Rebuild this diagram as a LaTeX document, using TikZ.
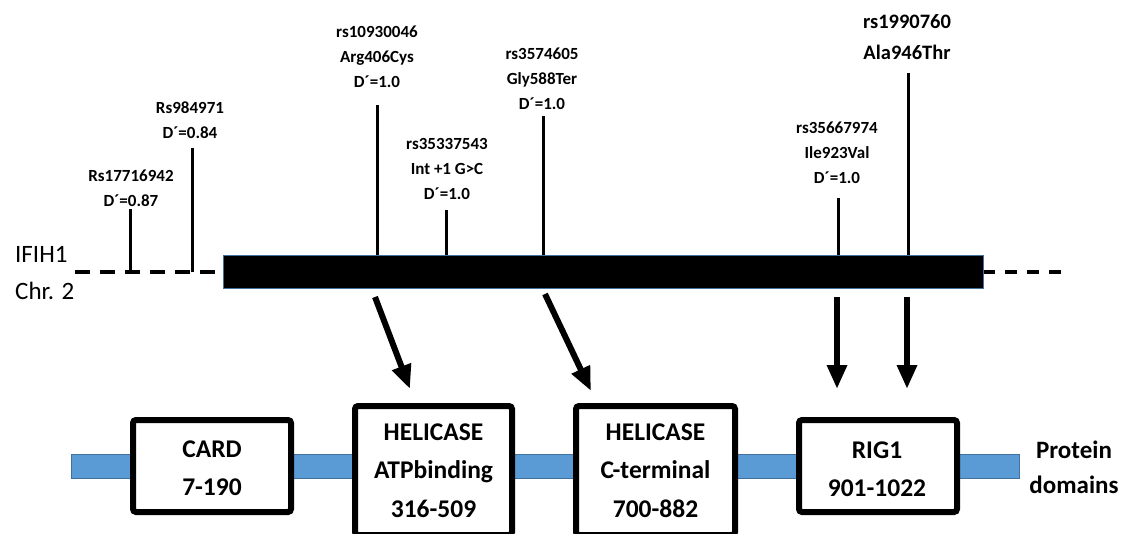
\documentclass[tikz,border=0pt]{standalone}
\usepackage{fontspec}
\setmainfont{Carlito}
\usetikzlibrary{arrows.meta}
\definecolor{protblue}{HTML}{5B9BD5}
\definecolor{edgeblue}{HTML}{41719C}
\newcommand{\mlines}[1]{\begin{tabular}[t]{@{}c@{}}#1\end{tabular}}
\newcommand{\Dp}{D\char"00B4}
\begin{document}
\begin{tikzpicture}[x=1pt,y=-1pt,
  snptext/.style={anchor=base, inner sep=0pt, font=\fontsize{17}{25}\selectfont\bfseries},
  bigsnptext/.style={anchor=base, inner sep=0pt, font=\fontsize{20.5}{31}\selectfont\bfseries},
  snpline/.style={line width=3pt},
  domainbox/.style={draw=black, fill=white, line width=6pt, rounded corners=3pt, inner sep=0pt},
  boxtext/.style={anchor=base, inner sep=0pt, font=\fontsize{25.5}{38.5}\selectfont\bfseries},
  sidetext/.style={anchor=base west, inner sep=0pt, font=\fontsize{25}{37}\selectfont},
  protlabel/.style={anchor=base, inner sep=0pt, font=\fontsize{25}{35}\selectfont\bfseries},
  bigarrow/.style={line width=6pt, -{Triangle[width=19pt,length=24pt]}},
  dashleft/.style={line width=4pt, dash pattern=on 15pt off 10pt},
  dashright/.style={line width=4pt, dash pattern=on 12pt off 10pt}
]
\useasboundingbox (0,0) rectangle (1126,533);
\clip (0,0) rectangle (1126,533);

% chromosome line
\coordinate (dl1) at (75,272);
\coordinate (dl2) at (223,272);
\coordinate (dr1) at (983,272);
\coordinate (dr2) at (1064,272);
\draw[dashleft] (dl1) -- (dl2);
\draw[dashright] (dr1) -- (dr2);
\node[draw=edgeblue, fill=black, line width=1pt, minimum width=760pt, minimum height=33pt, inner sep=0pt] (gene) at (603,271.5) {};

% side labels
\node[sidetext] (ifih) at (15,262) {IFIH1};
\node[sidetext] (chr) at (15,299) {Chr. 2};

% SNPs
\node[snptext] (t1) at (131,181) {\mlines{Rs17716942\\\Dp=0.87}};
\coordinate (s1a) at (130,209); \coordinate (s1b) at (130,272);
\draw[snpline] (s1a) -- (s1b);

\node[snptext] (t2) at (190,113) {\mlines{Rs984971\\\Dp=0.84}};
\coordinate (s2a) at (192,148); \coordinate (s2b) at (192,272);
\draw[snpline] (s2a) -- (s2b);

\node[snptext] (t3) at (377,37) {\mlines{rs10930046\\Arg406Cys\\\Dp=1.0}};
\coordinate (s3a) at (377.5,105); \coordinate (s3b) at (377.5,255);
\draw[snpline] (s3a) -- (s3b);

\node[snptext] (t4) at (447,149) {\mlines{rs35337543\\Int +1 G>C\\\Dp=1.0}};
\coordinate (s4a) at (446,210); \coordinate (s4b) at (446,255);
\draw[snpline] (s4a) -- (s4b);

\node[snptext] (t5) at (542,59) {\mlines{rs3574605\\Gly588Ter\\\Dp=1.0}};
\coordinate (s5a) at (543,116); \coordinate (s5b) at (543,255);
\draw[snpline] (s5a) -- (s5b);

\node[snptext] (t6) at (837,133) {\mlines{rs35667974\\Ile923Val\\\Dp=1.0}};
\coordinate (s6a) at (838,198); \coordinate (s6b) at (838,255);
\draw[snpline] (s6a) -- (s6b);

\node[bigsnptext] (t7) at (907,28) {\mlines{rs1990760\\Ala946Thr}};
\coordinate (s7a) at (908,73); \coordinate (s7b) at (908,255);
\draw[snpline] (s7a) -- (s7b);

% arrows
\coordinate (a1s) at (375,297); \coordinate (a1e) at (410,389);
\coordinate (a2s) at (545,294); \coordinate (a2e) at (591,391);
\coordinate (a3s) at (837,297); \coordinate (a3e) at (837,389);
\coordinate (a4s) at (907,297); \coordinate (a4e) at (907,389);
\draw[bigarrow] (a1s) -- (a1e);
\draw[bigarrow] (a2s) -- (a2e);
\draw[bigarrow] (a3s) -- (a3e);
\draw[bigarrow] (a4s) -- (a4e);

% protein bar
\node[draw=edgeblue, fill=protblue, line width=0.8pt, minimum width=948pt, minimum height=23.5pt, inner sep=0pt] (prot) at (545,466.3) {};

% domain boxes
\node[domainbox, minimum width=158pt, minimum height=92pt] (card) at (212,466) {};
\node[domainbox, minimum width=157pt, minimum height=129pt] (hel1) at (433.5,470.5) {};
\node[domainbox, minimum width=159pt, minimum height=129pt] (hel2) at (655.5,470.5) {};
\node[domainbox, minimum width=158pt, minimum height=92pt] (rig) at (878,466) {};

\node[boxtext] (cardt) at (212,457) {\mlines{CARD\\7-190}};
\node[boxtext] (hel1t) at (433.5,440) {\mlines{HELICASE\\ATPbinding\\316-509}};
\node[boxtext] (hel2t) at (655.5,440) {\mlines{HELICASE\\C-terminal\\700-882}};
\node[boxtext] (rigt) at (877,458) {\mlines{RIG1\\901-1022}};

\node[protlabel] (pd) at (1074,458) {\mlines{Protein\\domains}};
\end{tikzpicture}
\end{document}
